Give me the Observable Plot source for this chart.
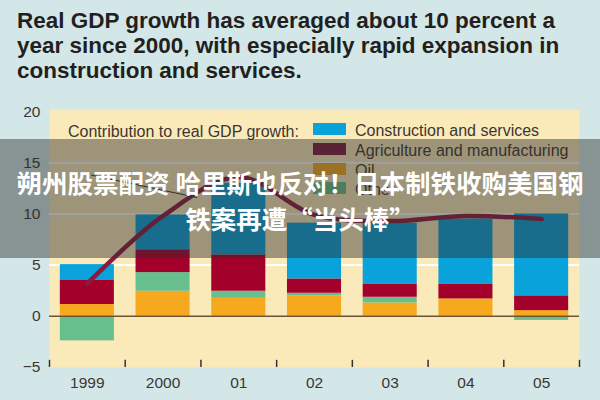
<!DOCTYPE html>
<html>
<head>
<meta charset="utf-8">
<script src="https://cdn.jsdelivr.net/npm/d3@7"></script>
<script src="https://cdn.jsdelivr.net/npm/@observablehq/plot@0.6"></script>
<style>
  html, body { margin: 0; padding: 0; }
  body { width: 600px; height: 400px; background: #d3e7e8; overflow: hidden; }
  #wrap { position: relative; width: 600px; height: 400px; }
  #chart { position: absolute; left: 0; top: 0; }
  #title { position: absolute; left: 17px; top: 8px; font-family: "Liberation Sans", Arial, sans-serif; font-weight: bold; font-size: 22px; line-height: 25px; color: #231f20; white-space: nowrap; transform-origin: 0 0; }
  #title span { display: inline-block; }
  .lg { position: absolute; font-family: "Liberation Sans", Arial, sans-serif; font-size: 16px; color: #3b3633; white-space: nowrap; line-height: 16px; }
  .sw { position: absolute; width: 33px; height: 12px; }
  #overlay { position: absolute; left: 0; top: 139px; width: 600px; height: 119px; background: rgba(45,45,45,0.45); }
  .ov { position: absolute; left: 0; width: 600px; text-align: center; color: #fff; font-family: "Noto Sans CJK SC", sans-serif; font-weight: bold; font-size: 25.5px; line-height: 30px; white-space: nowrap; }
</style>
</head>
<body>
<div id="wrap">
  <div id="chart"></div>
  <div id="title"><span id="t1">Real GDP growth has averaged about 10 percent a</span><br><span>year since 2000, with especially rapid expansion in</span><br><span>construction and services.</span></div>
  <div id="legend"></div>
  <div id="overlay">
    <div class="ov" style="top:28px">朔州股票配资 哈里斯也反对！日本制铁收购美国钢</div>
    <div class="ov" style="top:64px">铁案再遭“当头棒”</div>
  </div>
</div>
<script>
// ---- data ----
const years = [1999, 2000, 2001, 2002, 2003, 2004, 2005];
const yearLabels = ["1999", "2000", "01", "02", "03", "04", "05"];
const seriesNames = ["Oil", "Other", "Agriculture and manufacturing", "Construction and services"];
const oil = [1.15, 2.45, 1.76, 2.0, 1.3, 1.7, 0.55];
const other = [-2.4, 1.82, 0.69, 0.25, 0.56, 0.0, -0.4];
const agri = [2.35, 2.23, 3.55, 1.4, 1.3, 1.46, 1.45];
const construction = [1.55, 3.4, 7.0, 5.45, 5.94, 6.34, 8.0];
const gdpGrowth = [3.2, 9.8, 13.6, 9.9, 9.3, 9.8, 9.5];
const yTicks = [-5, 0, 5, 10, 15, 20];
const gridValues = [5, 10, 15];
const legendTitle = "Contribution to real GDP growth:";
const legendOrder = ["Construction and services", "Agriculture and manufacturing", "Oil", "Other"];
const legendLabels = ["Construction and services", "Agriculture and manufacturing", "Oil", "Other"];

const colors = {
  "Oil": "#f6a91f",
  "Other": "#66bf8c",
  "Agriculture and manufacturing": "#a4002c",
  "Construction and services": "#0aa2da"
};
const legendColors = {
  "Oil": "#f6a91f",
  "Other": "#66bf8c",
  "Agriculture and manufacturing": "#7e1b3c",
  "Construction and services": "#0aa2da"
};

// ---- build stacked table ----
const seriesValues = [oil, other, agri, construction];
const halfBar = 0.357;
const stacked = [];
years.forEach((yr, i) => {
  let pos = 0, neg = 0;
  seriesNames.forEach((s, k) => {
    const v = seriesValues[k][i];
    if (v >= 0) { stacked.push({year: yr, series: s, x1: yr - halfBar, x2: yr + halfBar, y1: pos, y2: pos + v}); pos += v; }
    else { stacked.push({year: yr, series: s, x1: yr - halfBar, x2: yr + halfBar, y1: neg + v, y2: neg}); neg += v; }
  });
});
const gdp = years.map((y, i) => ({year: y, value: gdpGrowth[i]}));
const boundaries = d3.range(years[0] - 0.5, years[years.length - 1] + 1, 1);
const leader = [{x1: 1999.05, y1: 13.8, x2: 2000.45, y2: 11.6}];

const plot = Plot.plot({
  width: 600,
  height: 400,
  marginLeft: 49,
  marginRight: 21,
  marginTop: 109,
  marginBottom: 33,
  style: {background: "transparent", fontFamily: "Liberation Sans, Arial, sans-serif", fontSize: "15px", color: "#3b3633"},
  x: {domain: [1998.5, 2005.5], axis: null},
  y: {domain: [-5, 20.2], axis: null},
  marks: [
    Plot.frame({fill: "#fbeab9", stroke: null}),
    Plot.ruleY(gridValues, {stroke: "#ffffff", strokeWidth: 2}),
    Plot.rect(stacked, {x1: "x1", x2: "x2", y1: "y1", y2: "y2", fill: d => colors[d.series]}),
    Plot.ruleY([0], {stroke: "#6b5436", strokeWidth: 1.6}),
    Plot.ruleX(boundaries, {y1: -5, y2: -4.3, stroke: "#333", strokeWidth: 1.5}),
    Plot.line(gdp, {x: "year", y: "value", curve: "catmull-rom", stroke: "#8c1a3f", strokeWidth: 4.5}),
    Plot.link(leader, {x1: "x1", y1: "y1", x2: "x2", y2: "y2", stroke: "#333", strokeWidth: 1}),
    Plot.axisY(yTicks, {tickSize: 0, tickPadding: 9, fontSize: 15.5, fill: "#3b3633"}),
    Plot.axisX(years, {tickSize: 0, tickPadding: 9, fontSize: 15.5, fill: "#3b3633", tickFormat: (d) => yearLabels[years.indexOf(d)]})
  ]
});
document.getElementById("chart").appendChild(plot);

// ---- title fit (condensed look) ----
const title = document.getElementById("title");
const w1 = document.getElementById("t1").getBoundingClientRect().width;
title.style.transform = `scaleX(${538 / w1})`;

// ---- legend ----
const lg = document.getElementById("legend");
const t = document.createElement("div");
t.className = "lg"; t.style.left = "68px"; t.style.top = "124px"; t.textContent = legendTitle;
lg.appendChild(t);
legendOrder.forEach((s, i) => {
  const sw = document.createElement("div");
  sw.className = "sw"; sw.style.left = "313px"; sw.style.top = (123 + i * 19.8) + "px"; sw.style.background = legendColors[s];
  lg.appendChild(sw);
  const lab = document.createElement("div");
  lab.className = "lg"; lab.style.left = "355px"; lab.style.top = (123 + i * 19.8) + "px"; lab.textContent = legendLabels[i];
  lg.appendChild(lab);
});
</script>
</body>
</html>
